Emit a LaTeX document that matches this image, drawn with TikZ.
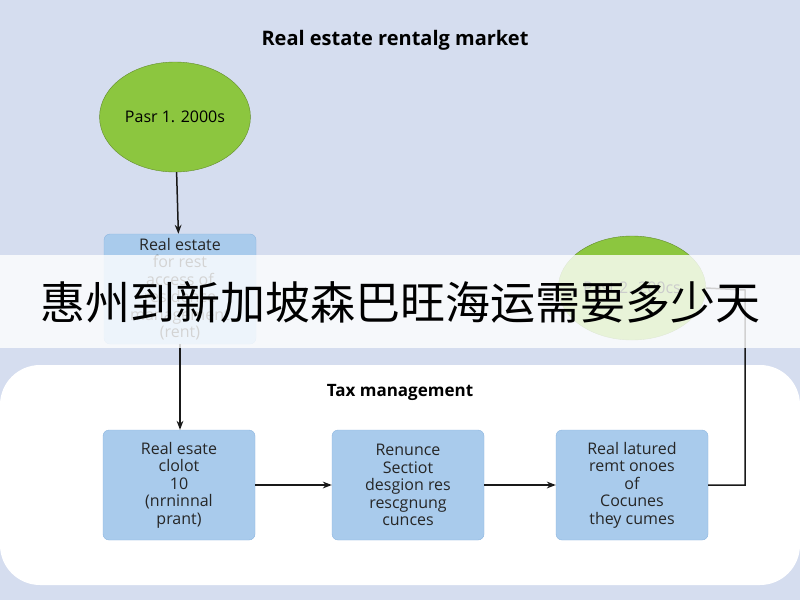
\documentclass[tikz,border=0pt]{standalone}
\usepackage{fontspec}
\setmainfont{Open Sans}
\newfontfamily\cjk{Noto Sans CJK SC}
\usetikzlibrary{arrows.meta,shapes.geometric}
\definecolor{bg}{HTML}{D5DDEF}
\definecolor{boxf}{HTML}{A9CBEC}
\definecolor{boxd}{HTML}{8DB6E0}
\definecolor{grn}{HTML}{8CC63F}
\begin{document}
\begin{tikzpicture}[x=1pt,y=-1pt,
  box/.style={draw=boxd,fill=boxf,rounded corners=6pt,minimum width=152pt,minimum height=110pt,align=center,font=\fontsize{16}{17.5}\selectfont,text=black!85},
  circ/.style={ellipse,draw=grn!70!black,fill=grn,minimum width=140pt,minimum height=110pt,font=\fontsize{16}{17}\selectfont},
  arr/.style={draw=black!90,line width=1.5pt,-{Stealth[length=9pt]}}]
\useasboundingbox (0,0) rectangle (800,600);
\fill[bg] (0,0) rectangle (800,600);
\fill[white,rounded corners=40pt] (0,365) rectangle (800,585);
\node[font=\bfseries\fontsize{20}{21}\selectfont] (title) at (395,40) {Real estate rentalg market};
\node[circ] (c1) at (175,117) {Pasr 1. 2000s};
\node[box] (b0) at (180,289) {Real estate\\for rest\\access of\\residence\\management\\(rent)};
\node[circ,minimum width=124pt,minimum height=104pt] (c2) at (632,288) {Past 2. 200cs};
\node[font=\bfseries\fontsize{17}{18}\selectfont] (tax) at (400,392) {Tax management};
\node[box] (b1) at (179,485) {Real esate\\clolot\\10\\(nrninnal\\prant)};
\node[box] (b2) at (408,485) {Renunce\\Sectiot\\desgion res\\rescgnung\\cunces};
\node[box] (b3) at (632,485) {Real latured\\remt onoes\\of\\Cocunes\\they cumes};
\coordinate (k1) at (745,485);
\coordinate (k2) at (745,290);
\draw[arr] (c1) -- (b0);
\draw[arr] (b0) -- (b0.south |- b1.north);
\draw[arr] (b1) -- (b2);
\draw[arr] (b2) -- (b3);
\draw[draw=black!90,line width=1.5pt] (b3) -- (k1) -- (k2) -- (c2.east);
\fill[white,opacity=0.8] (0,255) rectangle (800,348);
\node[font=\cjk\fontsize{45}{47}\selectfont] (banner) at (400,302) {惠州到新加坡森巴旺海运需要多少天};
\end{tikzpicture}
\end{document}
